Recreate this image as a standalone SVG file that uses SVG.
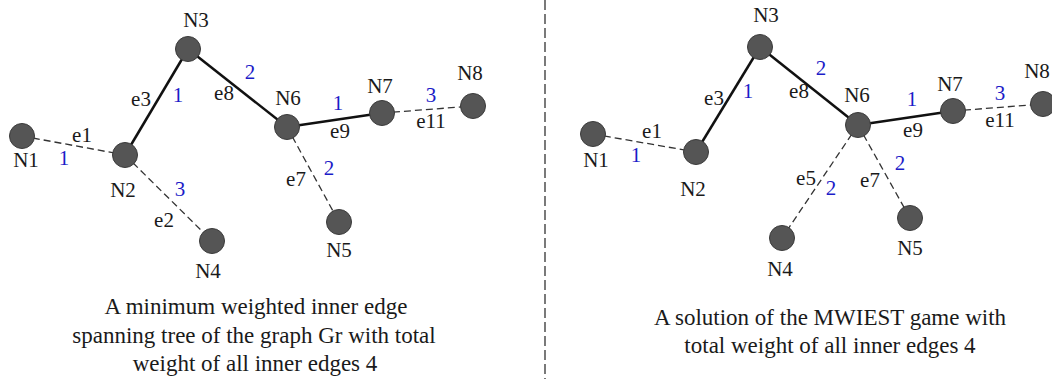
<svg xmlns="http://www.w3.org/2000/svg" width="1052" height="379" viewBox="0 0 1052 379">
<style>
text{font-family:"Liberation Serif",Tinos,"Times New Roman",Times,"DejaVu Serif","Noto Serif",serif;font-size:21px;fill:#1a1a1a;text-anchor:middle}
.w{fill:#1c1cc8}
.cap{font-size:23px}
.node circle{fill:#555;stroke:#3a3a3a;stroke-width:1}
.solid{stroke:#111;stroke-width:2.5;fill:none}
.dash{stroke:#333;stroke-width:1.3;stroke-dasharray:7 4;fill:none}
.div{stroke:#333;stroke-width:1.3;stroke-dasharray:10 4}
</style>
<rect width="1052" height="379" fill="#fff"/>
<line class="div" x1="545" y1="0" x2="545" y2="379"/>
<g id="connectors">
<line class="dash" x1="22" y1="136" x2="125" y2="155"/>
<line class="solid" x1="125" y1="155" x2="188" y2="49"/>
<line class="solid" x1="188" y1="49" x2="287" y2="127"/>
<line class="solid" x1="287" y1="127" x2="382" y2="113"/>
<line class="dash" x1="382" y1="113" x2="473" y2="106"/>
<line class="dash" x1="125" y1="155" x2="212" y2="241"/>
<line class="dash" x1="287" y1="127" x2="339" y2="222"/>
<line class="dash" x1="593" y1="134" x2="696" y2="152"/>
<line class="solid" x1="696" y1="152" x2="760" y2="47"/>
<line class="solid" x1="760" y1="47" x2="858" y2="125"/>
<line class="solid" x1="858" y1="125" x2="953" y2="111"/>
<line class="dash" x1="953" y1="111" x2="1043" y2="104"/>
<line class="dash" x1="858" y1="125" x2="782" y2="238"/>
<line class="dash" x1="858" y1="125" x2="910" y2="218"/>
</g>
<g id="edge-labels">
<text x="82" y="142">e1</text><text class="w" x="64" y="165">1</text>
<text x="141" y="106">e3</text><text class="w" x="178" y="102">1</text>
<text x="224" y="100">e8</text><text class="w" x="250" y="79">2</text>
<text x="164" y="227">e2</text><text class="w" x="180" y="196">3</text>
<text x="296" y="186">e7</text><text class="w" x="329" y="175">2</text>
<text x="340" y="138">e9</text><text class="w" x="338" y="110">1</text>
<text x="431" y="128">e11</text><text class="w" x="431" y="102">3</text>
<text x="652" y="138">e1</text><text class="w" x="636" y="162">1</text>
<text x="714" y="105">e3</text><text class="w" x="748" y="98">1</text>
<text x="799" y="98">e8</text><text class="w" x="821" y="75">2</text>
<text x="913" y="137">e9</text><text class="w" x="912" y="106">1</text>
<text x="1000" y="127">e11</text><text class="w" x="1000" y="100">3</text>
<text x="806" y="185">e5</text><text class="w" x="831" y="195">2</text>
<text x="870" y="187">e7</text><text class="w" x="900" y="170">2</text>
</g>
<g id="L-N1" class="node"><circle cx="22" cy="136" r="12.5"/><text x="26" y="167">N1</text></g>
<g id="L-N2" class="node"><circle cx="125" cy="155" r="12.5"/><text x="123" y="197">N2</text></g>
<g id="L-N3" class="node"><circle cx="188" cy="49" r="12.5"/><text x="196" y="27">N3</text></g>
<g id="L-N4" class="node"><circle cx="212" cy="241" r="12.5"/><text x="208" y="278">N4</text></g>
<g id="L-N5" class="node"><circle cx="339" cy="222" r="12.5"/><text x="339" y="257">N5</text></g>
<g id="L-N6" class="node"><circle cx="287" cy="127" r="12.5"/><text x="288" y="105">N6</text></g>
<g id="L-N7" class="node"><circle cx="382" cy="113" r="12.5"/><text x="380" y="93">N7</text></g>
<g id="L-N8" class="node"><circle cx="473" cy="106" r="12.5"/><text x="470" y="80">N8</text></g>
<g id="R-N1" class="node"><circle cx="593" cy="134" r="12.5"/><text x="596" y="167">N1</text></g>
<g id="R-N2" class="node"><circle cx="696" cy="152" r="12.5"/><text x="693" y="196">N2</text></g>
<g id="R-N3" class="node"><circle cx="760" cy="47" r="12.5"/><text x="766" y="22">N3</text></g>
<g id="R-N4" class="node"><circle cx="782" cy="238" r="12.5"/><text x="780" y="276">N4</text></g>
<g id="R-N5" class="node"><circle cx="910" cy="218" r="12.5"/><text x="910" y="255">N5</text></g>
<g id="R-N6" class="node"><circle cx="858" cy="125" r="12.5"/><text x="857" y="102">N6</text></g>
<g id="R-N7" class="node"><circle cx="953" cy="111" r="12.5"/><text x="950" y="91">N7</text></g>
<g id="R-N8" class="node"><circle cx="1043" cy="104" r="12.5"/><text x="1037" y="78">N8</text></g>
<g id="captions">
<text class="cap" x="256" y="314">A minimum weighted inner edge</text>
<text class="cap" x="254" y="343">spanning tree of the graph Gr with total</text>
<text class="cap" x="255" y="371">weight of all inner edges 4</text>
<text class="cap" x="830" y="325">A solution of the MWIEST game with</text>
<text class="cap" x="830" y="353">total weight of all inner edges 4</text>
</g>
</svg>
